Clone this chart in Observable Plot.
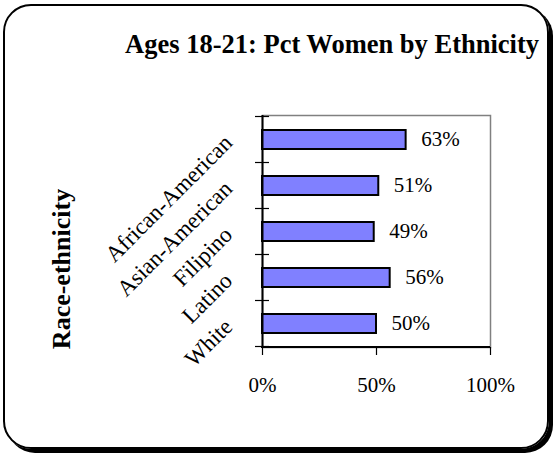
<!DOCTYPE html>
<html><head><meta charset="utf-8">
<script src="https://cdn.jsdelivr.net/npm/d3@7"></script>
<script src="https://cdn.jsdelivr.net/npm/@observablehq/plot@0.6"></script>
<style>
html,body{margin:0;padding:0;background:#fff;}
#wrap{position:relative;width:556px;height:456px;overflow:hidden;}
#chart svg{display:block;}
#border{position:absolute;left:3px;top:4px;width:542px;height:441px;border:2px solid #000;border-radius:28px;box-shadow:4px 4px 0 #000;pointer-events:none;}
</style></head><body>
<div id="wrap"><div id="chart"></div><div id="border"></div></div>
<script>
const categories = ["African-American", "Asian-American", "Filipino", "Latino", "White"];
const values = [63, 51, 49, 56, 50];
const xTicks = [0, 50, 100];
const title = "Ages 18-21: Pct Women by Ethnicity";
const yLabel = "Race-ethnicity";

const data = categories.map((c, i) => ({category: c, value: values[i]}));
const serif = "'Liberation Serif', 'Times New Roman', serif";

function axisLinesAndTicks(index, scales, vals, dimensions) {
  const {width, height, marginTop, marginLeft, marginRight, marginBottom} = dimensions;
  const y = scales.y;
  const bw = typeof y.bandwidth === "function" ? y.bandwidth() : (y.bandwidth || 0);
  const step = y(categories[1]) - y(categories[0]);
  const g = d3.create("svg:g");
  const bounds = [];
  categories.forEach((c) => bounds.push(y(c) + bw / 2 - step / 2));
  bounds.push(y(categories[categories.length - 1]) + bw / 2 + step / 2);
  for (const b of bounds) {
    g.append("line")
      .attr("x1", marginLeft - 7).attr("x2", marginLeft + 7)
      .attr("y1", b).attr("y2", b)
      .attr("stroke", "#000").attr("stroke-width", 1.2);
  }
  g.append("line")
    .attr("x1", marginLeft - 1).attr("x2", width - marginRight)
    .attr("y1", height - marginBottom).attr("y2", height - marginBottom)
    .attr("stroke", "#000").attr("stroke-width", 2);
  const plotMid = (marginTop + height - marginBottom) / 2;
  g.append("text")
    .attr("transform", `translate(${marginLeft - 192},${plotMid + 38}) rotate(-90)`)
    .attr("text-anchor", "middle")
    .attr("font-family", serif).attr("font-size", 26).attr("font-weight", "bold")
    .attr("fill", "#000")
    .text(yLabel);
  g.append("text")
    .attr("x", width - marginRight + 49).attr("y", 53)
    .attr("text-anchor", "end")
    .attr("font-family", serif).attr("font-size", 26.5).attr("font-weight", "bold")
    .attr("fill", "#000")
    .text(title);
  return g.node();
}

const chart = Plot.plot({
  width: 556,
  height: 456,
  marginTop: 115,
  marginRight: 66,
  marginBottom: 109,
  marginLeft: 262,
  style: {background: "transparent", fontFamily: serif, color: "#000", overflow: "visible"},
  x: {domain: [0, 100], axis: null},
  y: {domain: categories, paddingInner: 0.59, paddingOuter: 0.295, axis: null},
  marks: [
    Plot.frame({stroke: "#808080", strokeWidth: 1.5}),
    Plot.barX(data, {x: "value", y: "category", fill: "#8080ff", stroke: "#000", strokeWidth: 2}),
    Plot.ruleX([0], {stroke: "#000", strokeWidth: 2}),
    axisLinesAndTicks,
    Plot.axisX(xTicks, {tickFormat: (d) => d + "%", tickSize: 8, tickPadding: 22, fontSize: 21, fontFamily: serif, stroke: "#000", strokeWidth: 1.2, label: null}),
    Plot.text(data, {x: "value", y: "category", text: (d) => d.value + "%", dx: 15, dy: -1, textAnchor: "start", fontSize: 21, fontFamily: serif, fill: "#000"}),
    Plot.text(data, {y: "category", text: "category", frameAnchor: "left", dx: -34, dy: -1, rotate: -45, textAnchor: "end", fontSize: 23, fontFamily: serif, fill: "#000"})
  ]
});
document.getElementById("chart").appendChild(chart);
</script>
</body></html>
